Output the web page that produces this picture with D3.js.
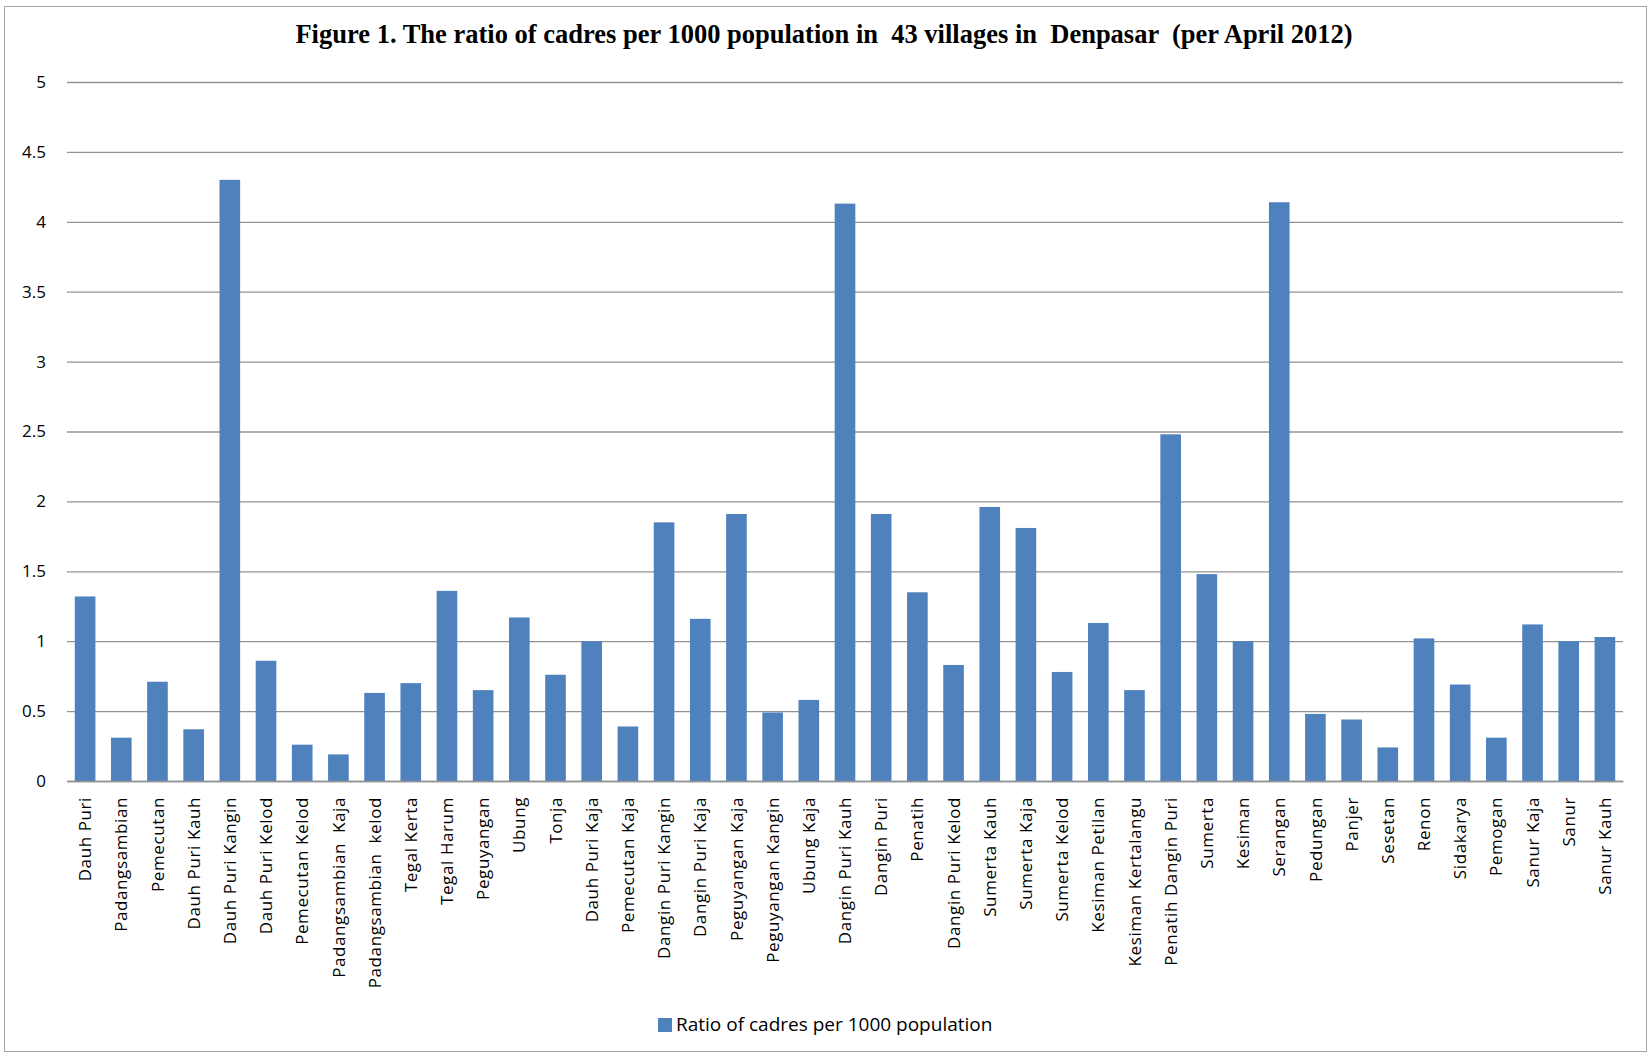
<!DOCTYPE html>
<html>
<head>
<meta charset="utf-8">
<script src="https://cdn.jsdelivr.net/npm/d3@7"></script>
<style>
  html, body { margin: 0; padding: 0; background: #fff; }
  svg { display: block; }
</style>
</head>
<body>
<svg id="chart" width="1648" height="1053"></svg>
<script>
// Villages in Denpasar, in the order they are plotted
const villages = [
  "Dauh Puri", "Padangsambian", "Pemecutan", "Dauh Puri Kauh", "Dauh Puri Kangin",
  "Dauh Puri Kelod", "Pemecutan Kelod", "Padangsambian  Kaja", "Padangsambian  kelod", "Tegal Kerta",
  "Tegal Harum", "Peguyangan", "Ubung", "Tonja", "Dauh Puri Kaja",
  "Pemecutan Kaja", "Dangin Puri Kangin", "Dangin Puri Kaja", "Peguyangan Kaja", "Peguyangan Kangin",
  "Ubung Kaja", "Dangin Puri Kauh", "Dangin Puri", "Penatih", "Dangin Puri Kelod",
  "Sumerta Kauh", "Sumerta Kaja", "Sumerta Kelod", "Kesiman Petilan", "Kesiman Kertalangu",
  "Penatih Dangin Puri", "Sumerta", "Kesiman", "Serangan", "Pedungan",
  "Panjer", "Sesetan", "Renon", "Sidakarya", "Pemogan",
  "Sanur Kaja", "Sanur", "Sanur Kauh"
];

// Cadres per 1000 population, per April 2012
const ratios = [
  1.32, 0.31, 0.71, 0.37, 4.30,
  0.86, 0.26, 0.19, 0.63, 0.70,
  1.36, 0.65, 1.17, 0.76, 1.00,
  0.39, 1.85, 1.16, 1.91, 0.49,
  0.58, 4.13, 1.91, 1.35, 0.83,
  1.96, 1.81, 0.78, 1.13, 0.65,
  2.48, 1.48, 1.00, 4.14, 0.48,
  0.44, 0.24, 1.02, 0.69, 0.31,
  1.12, 1.00, 1.03
];

const yTicks = [0, 0.5, 1, 1.5, 2, 2.5, 3, 3.5, 4, 4.5, 5];
const titleText = "Figure 1. The ratio of cadres per 1000 population in  43 villages in  Denpasar  (per April 2012)";
const seriesName = "Ratio of cadres per 1000 population";

const barColor = "#4F81BD";
const gridColor = "#929292";
const labelFont = "'Open Sans', 'Noto Sans', sans-serif";

const svg = d3.select("#chart");

// Outer chart frame
svg.append("rect")
  .attr("x", 4.5).attr("y", 6.5)
  .attr("width", 1642).attr("height", 1045)
  .attr("fill", "#fff")
  .attr("stroke", "#a6a6a6")
  .attr("stroke-width", 1);

const plot = { left: 67, right: 1623, top: 82, bottom: 781 };

const x = d3.scaleBand()
  .domain(villages)
  .range([plot.left, plot.right])
  .paddingInner(0.43)
  .paddingOuter(0.215);

const y = d3.scaleLinear()
  .domain([0, 5])
  .range([plot.bottom, plot.top]);

// Title
svg.append("text")
  .attr("x", 824)
  .attr("y", 43)
  .attr("text-anchor", "middle")
  .style("white-space", "pre")
  .attr("font-family", "'Liberation Serif', 'Times New Roman', serif")
  .attr("font-weight", "bold")
  .attr("font-size", 26.5)
  .attr("fill", "#000")
  .text(titleText);

// Horizontal gridlines and value labels via a left axis
const yAxis = d3.axisLeft(y)
  .tickValues(yTicks)
  .tickSize(-(plot.right - plot.left))
  .tickPadding(21)
  .tickFormat(d3.format("~g"));

const gy = svg.append("g")
  .attr("transform", `translate(${plot.left},0)`)
  .call(yAxis);
gy.select(".domain").remove();
gy.selectAll(".tick line")
  .attr("stroke", gridColor)
  .attr("stroke-width", 1.3);
gy.selectAll(".tick text")
  .attr("font-family", labelFont)
  .attr("font-size", 17)
  .attr("fill", "#000");

// Bars
svg.append("g")
  .selectAll("rect")
  .data(villages.map((v, i) => ({ v, r: ratios[i] })))
  .join("rect")
  .attr("x", d => x(d.v))
  .attr("y", d => y(d.r))
  .attr("width", x.bandwidth())
  .attr("height", d => y(0) - y(d.r))
  .attr("fill", barColor);

// Category axis with rotated village names
const xAxis = d3.axisBottom(x).tickSize(0).tickPadding(0);
const gx = svg.append("g")
  .attr("transform", `translate(0,${plot.bottom})`)
  .call(xAxis);
gx.select(".domain")
  .attr("stroke", gridColor)
  .attr("stroke-width", 1.3);
gx.selectAll(".tick text")
  .style("white-space", "pre")
  .attr("font-family", labelFont)
  .attr("font-size", 17)
  .attr("letter-spacing", 0.6)
  .attr("fill", "#000")
  .attr("text-anchor", "end")
  .attr("transform", "translate(0,16) rotate(-90)")
  .attr("x", 0)
  .attr("y", 0)
  .attr("dy", "0.36em");

// Legend
const legend = svg.append("g").attr("transform", "translate(658,1018)");
legend.append("rect")
  .attr("width", 14).attr("height", 14)
  .attr("fill", barColor);
legend.append("text")
  .attr("x", 18)
  .attr("y", 13)
  .attr("font-family", labelFont)
  .attr("font-size", 19)
  .attr("fill", "#000")
  .text(seriesName);
</script>
</body>
</html>
